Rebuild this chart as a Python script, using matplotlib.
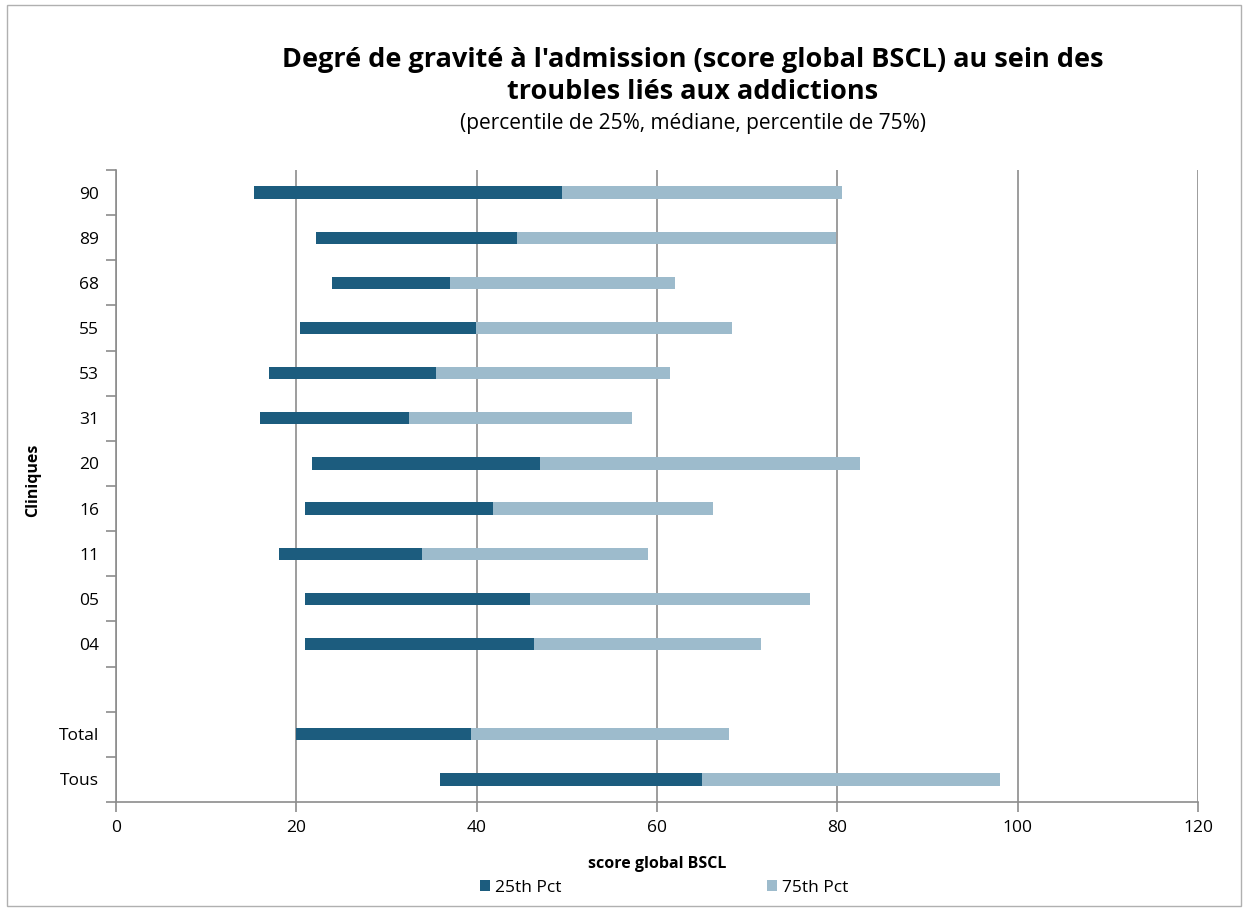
import numpy as np
import matplotlib.pyplot as plt
from matplotlib.patches import Rectangle

plt.rcParams['font.family'] = ['Open Sans', 'DejaVu Sans']

# categories from top to bottom ('' = blank spacer row)
cliniques = ['90', '89', '68', '55', '53', '31', '20', '16', '11', '05', '04', '', 'Total', 'Tous']
p25 = [15.3, 22.2, 24.0, 20.4, 17.0, 16.0, 21.7, 21.0, 18.1, 21.0, 21.0, np.nan, 20.0, 35.9]
median = [49.5, 44.5, 37.0, 39.9, 35.5, 32.5, 47.0, 41.8, 33.9, 45.9, 46.4, np.nan, 39.4, 65.0]
p75 = [80.5, 79.8, 62.0, 68.3, 61.4, 57.2, 82.5, 66.2, 59.0, 77.0, 71.5, np.nan, 68.0, 98.0]

dark = '#1c5c7e'
light = '#9dbbcc'
grey = '#8c8c8c'

p25 = np.array(p25)
median = np.array(median)
p75 = np.array(p75)
n = len(cliniques)
y = np.arange(n)

fig = plt.figure(figsize=(12.48, 9.11), dpi=100)
fig.patches.append(Rectangle((0.006, 0.006), 0.988, 0.988, transform=fig.transFigure,
                             fill=False, edgecolor='#b0b0b0', lw=1))
ax = fig.add_axes([116 / 1248, 1 - 802 / 911, (1198 - 116) / 1248, (802 - 170) / 911])

h = 0.27
ax.barh(y, median - p25, left=p25, height=h, color=dark, label='25th Pct', zorder=3)
ax.barh(y, p75 - median, left=median, height=h, color=light, label='75th Pct', zorder=3)

ax.set_xlim(0, 120)
ax.set_ylim(n - 0.5, -0.5)
ax.set_xticks(np.arange(0, 121, 20))
ax.set_yticks(y)
ax.set_yticklabels(cliniques)
ax.set_yticks(np.arange(-0.5, n, 1), minor=True)
ax.tick_params(axis='y', which='major', length=0, pad=12, labelsize=12.5)
ax.tick_params(axis='y', which='minor', length=7, color=grey, width=1.2)
ax.tick_params(axis='x', length=7, color=grey, width=1.2, labelsize=12.5, pad=6)

ax.grid(axis='x', color=grey, lw=1.2, zorder=0)
for s in ['top', 'right']:
    ax.spines[s].set_visible(False)
for s in ['left', 'bottom']:
    ax.spines[s].set_color(grey)
    ax.spines[s].set_linewidth(1.2)

ax.set_xlabel('score global BSCL', fontsize=11.5, fontweight='bold', labelpad=14)
fig.text(33 / 1248, 1 - 480 / 911, 'Cliniques', rotation=90, ha='center', va='center',
         fontsize=11.5, fontweight='bold')

fig.text(0.555, 1 - 60 / 911, "Degré de gravité à l'admission (score global BSCL) au sein des",
         ha='center', va='center', fontsize=19.5, fontweight='bold')
fig.text(0.555, 1 - 92 / 911, 'troubles liés aux addictions',
         ha='center', va='center', fontsize=19.5, fontweight='bold')
fig.text(0.555, 1 - 124 / 911, '(percentile de 25%, médiane, percentile de 75%)',
         ha='center', va='center', fontsize=15)

ax.legend(loc='center', bbox_to_anchor=(0.5065, -0.136), ncol=2, frameon=False, fontsize=12.5,
          handlelength=0.6, handleheight=0.6, handletextpad=0.3, columnspacing=11.8)

fig.savefig('out.png', dpi=100)
